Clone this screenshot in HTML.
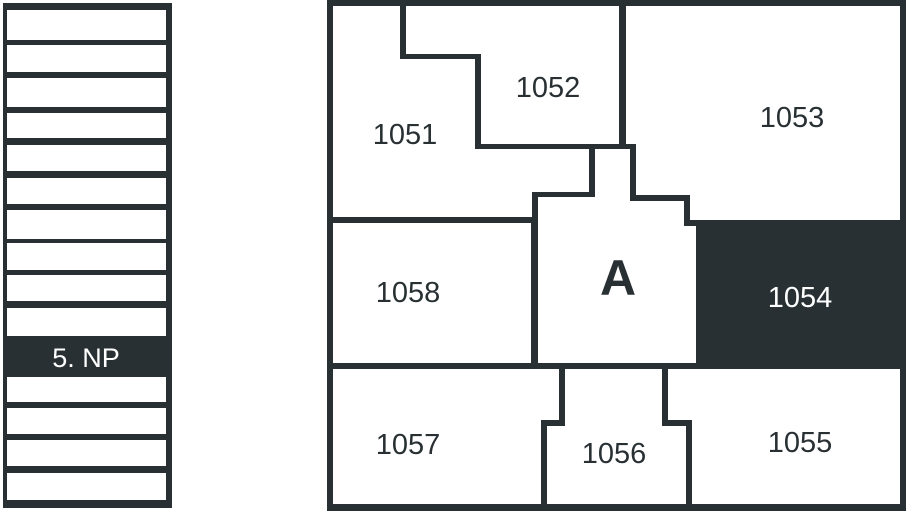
<!DOCTYPE html>
<html><head><style>html,body{margin:0;padding:0;background:#fff;}svg{display:block;}</style></head>
<body>
<svg width="906" height="511" viewBox="0 0 906 511" xmlns="http://www.w3.org/2000/svg" font-family="Liberation Sans, sans-serif">
<rect x="0" y="0" width="906" height="511" fill="#fff"/>
<rect x="3" y="3" width="169" height="505" fill="#283034"/>
<g fill="#fff">
<rect x="7" y="10" width="159" height="30"/>
<rect x="7" y="45" width="159" height="27"/>
<rect x="7" y="78" width="159" height="29"/>
<rect x="7" y="113" width="159" height="25"/>
<rect x="7" y="145" width="159" height="26"/>
<rect x="7" y="178" width="159" height="26"/>
<rect x="7" y="210" width="159" height="29"/>
<rect x="7" y="243" width="159" height="27"/>
<rect x="7" y="275" width="159" height="26"/>
<rect x="7" y="308" width="159" height="28"/>
<rect x="7" y="377" width="159" height="25"/>
<rect x="7" y="408" width="159" height="26"/>
<rect x="7" y="440" width="159" height="26"/>
<rect x="7" y="473" width="159" height="27"/>
</g>
<text x="86" y="367" font-size="27" fill="#fff" text-anchor="middle">5. NP</text>

<rect x="327" y="0" width="579" height="511" fill="#283034"/>
<g fill="#fff">
<polygon points="333,6 400,6 400,59 475,59 475,149 589,149 589,192 532,192 532,217 333,217"/>
<polygon points="406,6 619,6 619,144 481,144 481,54 406,54"/>
<polygon points="626,6 900,6 900,220 690,220 690,195 636,195 636,144 626,144"/>
<polygon points="595,149 630,149 630,201 684,201 684,226 696,226 696,363 538,363 538,197 595,197"/>
<rect x="333" y="223" width="198" height="140"/>
<polygon points="333,369 559,369 559,420 541,420 541,504 333,504"/>
<polygon points="565,369 662,369 662,426 686,426 686,504 547,504 547,426 565,426"/>
<polygon points="668,369 900,369 900,504 692,504 692,420 668,420"/>
</g>
<g font-size="29" fill="#283034" text-anchor="middle">
<text x="405" y="144">1051</text>
<text x="548" y="97">1052</text>
<text x="792" y="127">1053</text>
<text x="408" y="302">1058</text>
<text x="408" y="454">1057</text>
<text x="614" y="463">1056</text>
<text x="800" y="452">1055</text>
<text x="800" y="307" fill="#fff">1054</text>
<text x="618" y="295" font-size="50" font-weight="bold">A</text>
</g>
</svg>
</body></html>
